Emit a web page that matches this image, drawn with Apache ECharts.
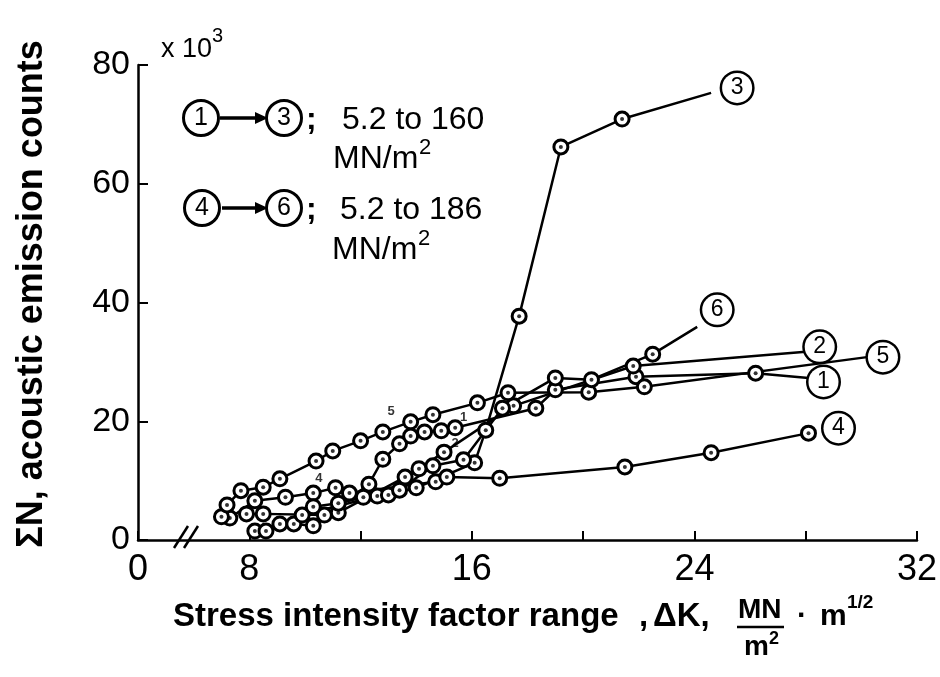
<!DOCTYPE html>
<html><head><meta charset="utf-8">
<script src="https://cdn.jsdelivr.net/npm/echarts@6/dist/echarts.min.js"></script>
<style>html,body{margin:0;padding:0;background:#fff}#c{width:940px;height:677px}</style>
</head><body><div id="c"></div>
<script>
// ---- data (ΔK, ΣN x10^3) ----
const xAxisMin = 4;            // axis is broken: this position is labelled "0"
const xTickLabels = [8, 16, 24, 32];
const yTickLabels = [0, 20, 40, 60, 80];
const curveNames = ['1', '2', '3', '4', '5', '6'];
const series1 = [[8.2,1.5],[8.6,1.5],[9.1,2.7],[9.6,2.7],[10.3,2.4],[12.3,9.4],[12.8,13.6],[13.4,16.2],[13.8,17.5],[14.3,18.2],[14.9,18.4],[15.4,18.9],[18.3,22.2],[19.0,25.3],[21.9,27.5],[26.2,28.1],[28.1,27.3]];
const series2 = [[7.9,4.4],[8.5,4.4],[10.7,4.2],[11.2,4.6],[13.6,10.6],[14.1,12.0],[15.0,14.8],[17.5,22.6],[21.8,29.3],[28.0,31.7]];
const series3 = [[9.9,4.2],[12.6,7.4],[13.0,7.6],[14.0,8.8],[16.1,13.0],[16.5,18.5],[17.7,37.7],[19.2,66.2],[21.4,70.9],[24.6,75.3]];
const series4 = [[7.3,3.7],[8.2,6.6],[9.3,7.2],[10.3,7.9],[11.1,8.8],[11.6,7.9],[14.7,9.8],[15.1,10.6],[17.0,10.4],[21.5,12.3],[24.6,14.7],[28.1,18.0]];
const series5 = [[7.0,3.9],[7.2,5.9],[7.7,8.3],[8.5,8.9],[9.1,10.3],[10.4,13.3],[11.0,15.0],[12.0,16.7],[12.8,18.2],[13.8,19.9],[14.6,21.1],[16.2,23.1],[17.3,24.8],[20.2,24.9],[22.2,25.8],[30.2,30.8]];
const series6 = [[10.3,5.6],[11.2,6.2],[12.1,7.2],[13.4,8.4],[14.6,12.5],[15.7,13.5],[17.1,22.2],[19.0,27.3],[20.3,27.0],[22.5,31.3],[24.1,35.9]];
const leaderEnd = [true, true, true, false, true, true]; // last point = end of leader line (no marker)
const smallTags = [[13.1,21.6,'5'],[15.7,20.7,'1'],[15.4,16.3,'2'],[10.5,10.4,'4']];

// ---- styles ----
const FONT = 'Liberation Sans';
const endLabelOffsets = [[0,4],[-1,-5],[11,-5],[15,-5],[1,0],[5,-17]];
const circleRich = {c:{width:30,height:30,lineHeight:30,align:'center',borderColor:'#000',borderWidth:2.5,borderRadius:15,backgroundColor:'#fff',fontSize:23,fontFamily:FONT,color:'#000'}};

const chart = echarts.init(document.getElementById('c'), null, {renderer:'canvas'});
const allSeries = [series1, series2, series3, series4, series5, series6];
const seriesOpts = [];
allSeries.forEach((arr, i) => {
  const data = arr.map((p, j) => (leaderEnd[i] && j === arr.length - 1) ? {value:p, symbol:'none'} : p);
  seriesOpts.push({
    type:'line', name:curveNames[i], data, symbol:'circle', symbolSize:14,
    lineStyle:{color:'#000', width:2.5},
    itemStyle:{color:'#fff', borderColor:'#000', borderWidth:3},
    endLabel:{show:true, formatter:'{c|' + curveNames[i] + '}', rich:circleRich, distance:0, offset:endLabelOffsets[i]},
    z:2, animation:false
  });
  const dots = leaderEnd[i] ? arr.slice(0, -1) : arr;
  seriesOpts.push({type:'scatter', data:dots, symbol:'circle', symbolSize:4, itemStyle:{color:'#000'}, z:5, animation:false, silent:true});
});
seriesOpts.push({type:'scatter', data:smallTags, symbolSize:0, z:6, animation:false,
  label:{show:true, position:'inside', formatter:p => p.value[2], fontSize:13, fontWeight:'bold', color:'#000', fontFamily:FONT}});

function circ(x, y, t) {
  return {type:'text', x, y, style:{text:'{c|' + t + '}', rich:{c:Object.assign({}, circleRich.c, {width:32,height:32,lineHeight:32,borderRadius:16,fontSize:25,borderWidth:3})}, align:'center', verticalAlign:'middle'}};
}
function arrow(x1, x2, y) {
  return [{type:'line', shape:{x1, y1:y, x2:x2 - 8, y2:y}, style:{stroke:'#000', lineWidth:3.5}},
          {type:'polygon', shape:{points:[[x2, y],[x2 - 13, y - 6],[x2 - 13, y + 6]]}, style:{fill:'#000'}}];
}
function txt(x, y, t, size, extra) {
  return Object.assign({type:'text', x, y, style:{text:t, font:(extra && extra.weight || 'normal') + ' ' + size + 'px "' + FONT + '"', fill:'#000', align:(extra && extra.align) || 'left', verticalAlign:'middle'}}, extra && extra.el || {});
}

const graphic = [
  // y axis title
  {type:'text', x:32, y:294, rotation:Math.PI/2, style:{text:'ΣN, acoustic emission counts', font:'bold 36px "' + FONT + '"', fill:'#000', align:'center', verticalAlign:'middle'}},
  // x10^3
  txt(161, 50, 'x 10', 27),
  txt(212, 36, '3', 20),
  // legend block
  circ(201, 118, '1'), ...arrow(220, 268, 118), circ(284, 118, '3'),
  txt(306, 120, ';', 32, {weight:'bold'}),
  txt(342, 120, '5.2 to 160', 32),
  txt(333, 159, 'MN/m', 32), txt(419, 148, '2', 22),
  circ(202, 208, '4'), ...arrow(222, 268, 208), circ(284, 208, '6'),
  txt(306, 210, ';', 32, {weight:'bold'}),
  txt(340, 210, '5.2 to 186', 32),
  txt(332, 250, 'MN/m', 32), txt(418, 239, '2', 22),
  // x axis title
  txt(173, 617, 'Stress intensity factor range', 33, {weight:'bold'}),
  txt(639, 617, ',', 33, {weight:'bold'}),
  txt(653, 617, 'ΔK,', 33, {weight:'bold'}),
  txt(738, 610, 'MN', 28, {weight:'bold'}),
  {type:'line', shape:{x1:737, y1:627, x2:784, y2:627}, style:{stroke:'#000', lineWidth:2.5}},
  txt(744, 647, 'm', 28, {weight:'bold'}), txt(769, 639, '2', 18, {weight:'bold'}),
  txt(797, 617, '·', 30, {weight:'bold'}),
  txt(820, 617, 'm', 30, {weight:'bold'}), txt(847, 603, '1/2', 19, {weight:'bold'}),
  // axis break marks
  {type:'line', shape:{x1:174, y1:548, x2:188, y2:526}, style:{stroke:'#000', lineWidth:2.5}},
  {type:'line', shape:{x1:184, y1:548, x2:198, y2:526}, style:{stroke:'#000', lineWidth:2.5}}
];

chart.setOption({
  animation:false,
  backgroundColor:'#fff',
  grid:{left:138, right:23, top:65, bottom:137, containLabel:false, outerBoundsMode:'none'},
  xAxis:{type:'value', min:xAxisMin, max:32, interval:4,
    axisLine:{show:true, lineStyle:{color:'#000', width:2.5}},
    axisTick:{show:true, inside:true, length:9, lineStyle:{color:'#000', width:2}},
    axisLabel:{show:true, interval:0, showMinLabel:true, showMaxLabel:true, margin:12, color:'#000', fontSize:36, fontFamily:FONT,
      formatter:v => v === xAxisMin ? '0' : (xTickLabels.indexOf(v) >= 0 ? String(v) : '')},
    splitLine:{show:false}},
  yAxis:{type:'value', min:0, max:80, interval:20,
    axisLine:{show:true, lineStyle:{color:'#000', width:2.5}},
    axisTick:{show:true, inside:true, length:10, lineStyle:{color:'#000', width:2}},
    axisLabel:{show:true, margin:8, color:'#000', fontSize:34, fontFamily:FONT,
      formatter:v => yTickLabels.indexOf(v) >= 0 ? String(v) : ''},
    splitLine:{show:false}},
  series:seriesOpts,
  graphic
});
</script></body></html>
